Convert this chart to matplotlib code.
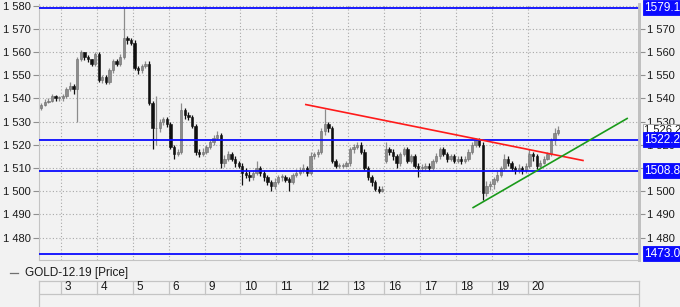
import matplotlib
matplotlib.use("Agg")
import matplotlib.pyplot as plt
import matplotlib.transforms as mtransforms
from matplotlib.ticker import FuncFormatter, FixedLocator
import numpy as np

plt.rcParams['font.family'] = ['Liberation Sans', 'DejaVu Sans']

# ---------------- data ----------------
day_labels = ["3", "4", "5", "6", "9", "10", "11", "12", "13", "16", "17", "18", "19", "20"]

opens = [
    1536, 1537, 1538.5, 1539, 1541, 1540,
    1540, 1541, 1544, 1545.5, 1544, 1557, 1560, 1558, 1557, 1555,
    1559, 1548, 1549, 1547, 1552, 1556, 1555, 1558, 1566, 1565,
    1564, 1553, 1552, 1554, 1555, 1538, 1527, 1527, 1530, 1531,
    1529, 1519, 1516, 1517, 1535, 1533, 1532, 1528, 1517, 1516,
    1517, 1519, 1521, 1523, 1524, 1512, 1514, 1516, 1514, 1512,
    1511, 1508, 1507, 1506, 1508, 1510, 1508, 1506, 1504, 1502,
    1504, 1506, 1506, 1505, 1504, 1507, 1508, 1509, 1510, 1508,
    1515, 1516, 1517, 1526, 1529, 1527, 1513, 1511, 1511, 1511,
    1512, 1518, 1519, 1520, 1517, 1510, 1506, 1504, 1501, 1500,
    1513, 1518, 1517, 1515, 1512, 1516, 1518, 1513, 1515, 1511,
    1510, 1510, 1511, 1510, 1513, 1515, 1518, 1516, 1514, 1515,
    1513, 1514, 1513, 1514, 1517, 1520, 1522, 1520, 1499, 1502,
    1503, 1505, 1507, 1510, 1514, 1512, 1510, 1509, 1510, 1509,
    1511, 1516, 1515, 1511, 1512, 1514, 1516, 1522, 1525,
]
closes = [
    1537, 1538.5, 1539, 1541, 1540, 1540,
    1541, 1544, 1545.5, 1544, 1557, 1560, 1558, 1557, 1555, 1559,
    1548, 1549, 1547, 1552, 1556, 1555, 1558, 1566, 1565, 1564,
    1553, 1552, 1554, 1555, 1538, 1527, 1527, 1530, 1531, 1529,
    1519, 1516, 1517, 1535, 1533, 1532, 1528, 1517, 1516, 1517,
    1519, 1521, 1523, 1524, 1512, 1514, 1516, 1514, 1512, 1511,
    1508, 1507, 1506, 1508, 1510, 1508, 1506, 1504, 1502, 1504,
    1506, 1506, 1505, 1504, 1507, 1508, 1509, 1510, 1508, 1515,
    1516, 1517, 1526, 1529, 1527, 1513, 1511, 1511, 1511, 1512,
    1518, 1519, 1520, 1517, 1510, 1506, 1504, 1501, 1500, 1501,
    1518, 1517, 1515, 1512, 1516, 1518, 1513, 1515, 1511, 1510,
    1510, 1511, 1510, 1513, 1515, 1518, 1516, 1514, 1515, 1513,
    1514, 1513, 1514, 1517, 1520, 1522, 1520, 1499, 1502, 1503,
    1505, 1507, 1510, 1514, 1512, 1510, 1509, 1510, 1509, 1511,
    1516, 1515, 1511, 1512, 1514, 1516, 1522, 1525, 1526.2,
]
highs = [
    1538, 1539.5, 1540, 1542, 1541.5, 1541,
    1542, 1545, 1547, 1546, 1558, 1561, 1560, 1558.5, 1557, 1560,
    1560, 1550, 1550, 1553, 1557, 1557, 1559, 1579.1, 1567, 1566,
    1565, 1554, 1555, 1556, 1556, 1539, 1541, 1531, 1532, 1532,
    1530, 1520, 1518, 1538, 1536, 1534, 1533, 1529, 1518, 1518.5,
    1520, 1522, 1524, 1526, 1525, 1515.5, 1517.5, 1517, 1515, 1513,
    1512, 1510, 1508.5, 1509, 1513, 1511, 1509, 1507, 1505, 1505.5,
    1507, 1507.5, 1507, 1506, 1508, 1509.5, 1510.5, 1511.5, 1511, 1517,
    1517, 1518, 1527, 1535.6, 1530, 1528, 1514, 1512, 1512, 1513,
    1519, 1520.5, 1521, 1521, 1518, 1511, 1507, 1505, 1502, 1502,
    1521, 1519, 1518, 1516, 1517, 1519, 1519, 1516, 1516, 1512,
    1511.5, 1512, 1512, 1514, 1516.5, 1519, 1519, 1517, 1516, 1516,
    1515, 1515, 1515, 1518, 1521, 1523, 1523, 1521, 1504.5, 1504.5,
    1506, 1508.5, 1511, 1516, 1515, 1513, 1511, 1511.5, 1511, 1512,
    1518, 1517, 1516, 1513.5, 1515, 1517, 1523, 1527, 1528,
]
lows = [
    1535, 1536.5, 1538, 1538.5, 1539, 1539,
    1539, 1540, 1543, 1542, 1530, 1556, 1556.5, 1555.5, 1554, 1554,
    1547, 1546.5, 1546, 1546, 1551, 1554, 1554, 1557, 1563.5, 1563,
    1552, 1550.5, 1551, 1553, 1537, 1518, 1520, 1525.5, 1528.5, 1527.5,
    1518, 1514, 1515, 1516, 1531, 1530.5, 1527, 1515.5, 1514.5, 1515,
    1516, 1518, 1520, 1522, 1510, 1510.5, 1513, 1513, 1510.5, 1510,
    1502.6, 1505.5, 1504.5, 1505, 1507, 1506.5, 1504.5, 1502.5, 1500, 1501,
    1503, 1504.5, 1504, 1500, 1503, 1506, 1507, 1508, 1506.5, 1507,
    1514, 1514.5, 1516, 1524, 1525.5, 1512, 1510, 1510, 1510, 1510.5,
    1511, 1516.5, 1518, 1516, 1509, 1505, 1502, 1500, 1499, 1499.5,
    1512, 1515.5, 1513.5, 1510, 1511, 1515, 1512, 1512, 1510, 1506,
    1508.5, 1509, 1508.5, 1509, 1512, 1514, 1515, 1512.5, 1513, 1512,
    1512, 1511.5, 1512, 1513, 1516, 1519, 1519, 1496, 1498, 1500.5,
    1501, 1504, 1506, 1509, 1511, 1508.5, 1507.5, 1508, 1507.5, 1508,
    1510, 1513, 1509.5, 1510, 1511.5, 1513.5, 1515, 1520, 1524,
]

bars_per_day = 10
first_bar_day = -0.6          # session starts 0.6 day before day "3"
levels = [1579.1, 1522.2, 1508.8, 1473.0]
last_price = 1526.2
red_line_x = [6.82, 14.54]
red_line_y = [1537.3, 1513.2]
green_line_x = [11.48, 15.77]
green_line_y = [1492.9, 1531.3]
legend_text = "GOLD-12.19 [Price]"

# ---------------- figure ----------------
W, H = 680, 307
bg = '#f2f2f2'
fig = plt.figure(figsize=(W / 100, H / 100), dpi=100, facecolor=bg)

left_px, right_px, top_px, bot_px = 39, 639, 4, 260
ax = fig.add_axes([left_px / W, 1 - bot_px / H, (right_px - left_px) / W, (bot_px - top_px) / H])
ax.set_facecolor(bg)

px_per_unit = 2.32
y_top = 1580 + (5.5 - top_px) / px_per_unit
y_bot = 1580 - (bot_px - 5.5) / px_per_unit
ax.set_ylim(y_bot, y_top)
px_per_day = 35.9
x_left = (left_px - 61) / px_per_day
x_right = (right_px - 61) / px_per_day
ax.set_xlim(x_left, x_right)

# grid
grid_kw = dict(color='#a8a8a8', lw=0.8, linestyle=(0, (1, 2)), zorder=0)
for d in range(len(day_labels)):
    ax.axvline(d, **grid_kw)
for v in range(1480, 1581, 10):
    ax.axhline(v, **grid_kw)

# candles
n = len(closes)
xs = first_bar_day + (np.arange(n) + 0.5) / bars_per_day
o = np.array(opens); c = np.array(closes); h = np.array(highs); l = np.array(lows)
up = c >= o
colors = np.where(up, '#8c8c8c', '#101010')
ax.vlines(xs, l, h, colors=colors, lw=0.9, zorder=3)
body_bottom = np.minimum(o, c)
body_h = np.maximum(np.abs(c - o), 0.4)
ax.bar(xs, body_h, bottom=body_bottom, width=0.065, color=colors,
       edgecolor=np.where(up, '#6a6a6a', '#101010'), linewidth=0.4, zorder=4)

# levels
for lv in levels:
    ax.axhline(lv, color='#0a0aff', lw=1.3, zorder=5)

# trend lines
ax.plot(red_line_x, red_line_y, color='#ff1a1a', lw=1.2, zorder=6)
ax.plot(green_line_x, green_line_y, color='#1a9a1a', lw=1.2, zorder=6)

# spines
ax.spines['top'].set_visible(False)
ax.spines['left'].set_color('#c4c4c4')
ax.spines['bottom'].set_color('#c4c4c4')
ax.spines['right'].set_color('#c0c0c0')
ax.spines['right'].set_linewidth(2.0)

# y ticks both sides
fmt = FuncFormatter(lambda v, p: f"{int(round(v)):,}".replace(",", " "))
ax.yaxis.set_major_locator(FixedLocator(list(range(1480, 1581, 10))))
ax.yaxis.set_major_formatter(fmt)
ax.tick_params(axis='y', labelsize=8, colors='#909090', labelcolor='#1a1a1a',
               length=4, width=0.8, pad=2)
ax.set_xticks([])

axr = ax.twinx()
axr.set_ylim(ax.get_ylim())
axr.yaxis.set_major_locator(FixedLocator(list(range(1480, 1571, 10))))
axr.yaxis.set_major_formatter(fmt)
axr.tick_params(axis='y', labelsize=8, colors='#909090', labelcolor='#1a1a1a',
                length=4, width=0.8, pad=2)
for s in ['top', 'left', 'bottom']:
    axr.spines[s].set_visible(False)
axr.spines['right'].set_color('#c0c0c0')
axr.spines['right'].set_linewidth(2.0)

# right-side value boxes (drawn on top of the right tick labels)
trans = mtransforms.blended_transform_factory(axr.transAxes, axr.transData)
box_x = (644 - left_px) / (right_px - left_px)
axr.text(box_x, last_price, f"{last_price:,.1f}".replace(",", " "), transform=trans,
         ha='left', va='center', fontsize=8, color='#1a1a1a', zorder=20, clip_on=False,
         bbox=dict(boxstyle='square,pad=0.12', fc='white', ec='#a0a0a0', lw=0.6))
for lv in levels:
    axr.text(box_x, lv, f"{lv:.1f}", transform=trans, ha='left', va='center',
             fontsize=8.5, color='white', zorder=21, clip_on=False,
             bbox=dict(boxstyle='square,pad=0.12', fc='#0a0aff', ec='#0a0aff', lw=0.6))

# legend row
fig.add_artist(plt.Line2D([10 / W, 18 / W], [1 - 273 / H, 1 - 273 / H], color='#707070', lw=0.9))
fig.text(25 / W, 1 - 273 / H, legend_text, ha='left', va='center', fontsize=8.5, color='#1a1a1a')

# date panel
axd = fig.add_axes([left_px / W, 0, (right_px - left_px) / W, (H - 281) / H])
axd.set_facecolor(bg)
axd.set_xlim(x_left, x_right)
axd.set_ylim(0, 26)
for s in axd.spines.values():
    s.set_color('#c4c4c4')
    s.set_linewidth(0.9)
axd.spines['bottom'].set_visible(False)
axd.set_xticks([]); axd.set_yticks([])
axd.axhline(13, color='#c4c4c4', lw=0.9)
for d, lab in enumerate(day_labels):
    axd.plot([d, d], [13, 26], color='#c4c4c4', lw=0.9)
    axd.text(d + 4 / px_per_day, 19.5, lab, ha='left', va='center', fontsize=8.5, color='#1a1a1a')

fig.savefig('out.png', dpi=100, facecolor=bg)
